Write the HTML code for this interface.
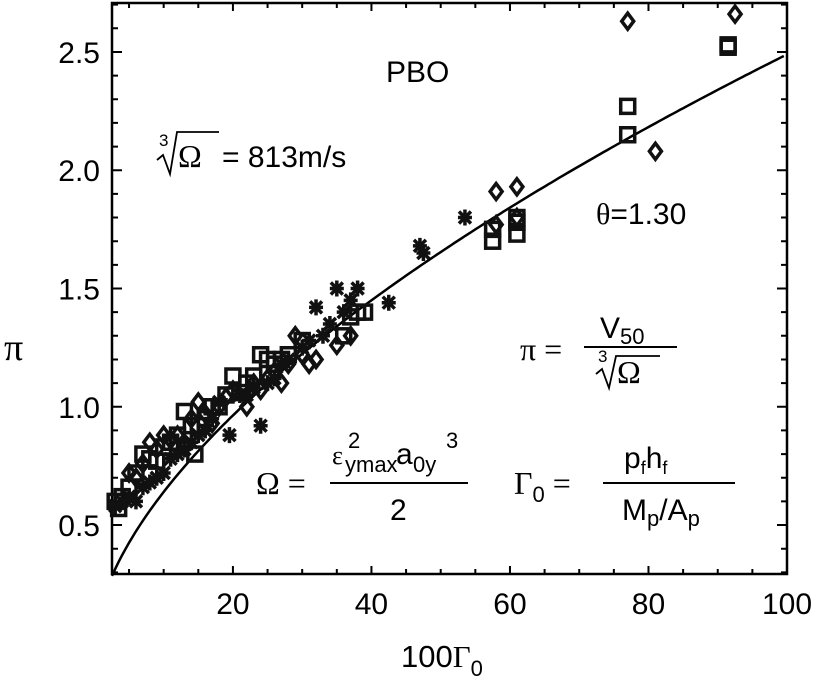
<!DOCTYPE html>
<html><head><meta charset="utf-8"><style>
body{margin:0;background:#fff}
svg{display:block;font-family:"Liberation Sans",sans-serif}
svg text{font-size:30px}
</style></head><body>
<svg id="chart" width="817" height="684" viewBox="0 0 817 684">
<g id="plot"></g>
<text x="4" y="360" style="font-family:'Liberation Serif';font-size:38px">π</text>
<text x="401" y="667" style="font-size:31px">100<tspan style="font-family:'Liberation Serif'">Γ</tspan><tspan style="font-size:22px" dy="9">0</tspan></text>
<text x="386" y="82" style="font-size:30px">PBO</text>
<g>
<text x="159" y="146" style="font-size:17px">3</text>
<path d="M157 160 L163 155 L170 174 L177 132 L219 132" stroke="#000" stroke-width="1.8" fill="none"/>
<text x="178" y="167" style="font-family:'Liberation Serif';font-size:32px">Ω</text>
<text x="222" y="167" style="font-size:30px">= 813m/s</text>
</g>
<text x="596" y="224" style="font-size:30px"><tspan style="font-family:'Liberation Serif'">θ</tspan>=1.30</text>
<g>
<text x="520" y="360" style="font-family:'Liberation Serif';font-size:32px">π =</text>
<text x="600" y="338" style="font-size:30px">V<tspan style="font-size:22px" dy="6">50</tspan></text>
<line x1="584" y1="347" x2="677" y2="347" stroke="#000" stroke-width="2"/>
<text x="598" y="362" style="font-size:17px">3</text>
<path d="M596 374 L602 369 L609 388 L616 356 L660 356" stroke="#000" stroke-width="1.8" fill="none"/>
<text x="617" y="383" style="font-family:'Liberation Serif';font-size:32px">Ω</text>
</g>
<g>
<text x="256" y="494" style="font-family:'Liberation Serif';font-size:32px">Ω =</text>
<text x="332" y="464" style="font-family:'Liberation Serif';font-size:26px">ε</text>
<text x="348" y="448" style="font-size:22px">2</text>
<text x="345" y="472" style="font-size:22px">ymax</text>
<text x="396" y="464" style="font-size:30px">a</text>
<text x="446" y="448" style="font-size:22px">3</text>
<text x="413" y="472" style="font-size:22px">0y</text>
<line x1="330" y1="483" x2="468" y2="483" stroke="#000" stroke-width="2"/>
<text x="390" y="520" style="font-size:30px">2</text>
</g>
<g>
<text x="514" y="494" style="font-family:'Liberation Serif';font-size:32px">Γ<tspan style="font-size:22px;font-family:'Liberation Sans'" dy="8">0</tspan><tspan dy="-8"> =</tspan></text>
<text x="624" y="468" style="font-size:30px">p<tspan style="font-size:18px" dy="6">f</tspan><tspan dy="-6">h</tspan><tspan style="font-size:18px" dy="6">f</tspan></text>
<line x1="603" y1="483" x2="735" y2="483" stroke="#000" stroke-width="2"/>
<text x="622" y="520" style="font-size:30px">M<tspan style="font-size:22px" dy="6">p</tspan><tspan dy="-6">/A</tspan><tspan style="font-size:22px" dy="6">p</tspan></text>
</g>
</svg>
<script>
const xTicks=[20,40,60,80,100];
const yTicks=[0.5,1.0,1.5,2.0,2.5];
const yTickLabels=["0.5","1.0","1.5","2.0","2.5"];
const fitA=0.1645;
const fitB=0.59;
const starX=[3,4,5,6,7,8,9,10,11,12,13,14,15,16,17,18,19.5,21,22,23,24,25,26,27,28,30,31,32,33,34,35,36,37,38,42.5,47,47.5,53.5];
const starY=[0.58,0.6,0.62,0.6,0.66,0.68,0.7,0.72,0.78,0.8,0.82,0.85,0.88,0.9,0.95,1.02,0.88,1.05,1.05,1.08,0.92,1.1,1.12,1.18,1.2,1.25,1.28,1.42,1.3,1.35,1.5,1.4,1.45,1.5,1.44,1.68,1.65,1.8];
const sqX=[3,3.5,4,5,6,7,8,9,10,11,12,13,14,14.5,15,16,17,18,19,20,21,22,23,24,25,26,27,28,30,36,37,38,39,57.5,57.5,61,61,61,77,77,91.5,91.5];
const sqY=[0.6,0.57,0.62,0.66,0.72,0.8,0.78,0.77,0.83,0.85,0.88,0.98,0.92,0.8,0.92,0.95,1.0,1.0,1.05,1.13,1.06,1.1,1.13,1.22,1.2,1.18,1.2,1.22,1.28,1.3,1.38,1.4,1.4,1.75,1.7,1.78,1.73,1.8,2.27,2.15,2.53,2.52];
const diX=[5,6,7,8,9,10,11,12,13,14,15,16,17,18,19,20,22,23,24,25,26,27,28,29,30,31,32,35,37,58,58,61,61,77,81,92.5];
const diY=[0.72,0.7,0.76,0.85,0.82,0.88,0.86,0.88,0.83,0.95,1.02,0.97,0.93,1.0,1.04,1.07,1.0,1.1,1.07,1.12,1.15,1.1,1.18,1.3,1.22,1.18,1.2,1.26,1.3,1.91,1.77,1.93,1.8,2.63,2.08,2.66];
const NS='http://www.w3.org/2000/svg';
const L=112,R=787,T=3,B=574,xmin=2.54,xmax=100,ymin=0.293,ymax=2.707;
const sx=v=>L+(v-xmin)/(xmax-xmin)*(R-L);
const sy=v=>B-(v-ymin)/(ymax-ymin)*(B-T);
const g=document.getElementById('plot');
function mk(tag,at){const e=document.createElementNS(NS,tag);for(const k in at)e.setAttribute(k,at[k]);g.appendChild(e);return e;}
let frame=mk('rect',{x:L,y:T,width:R-L,height:B-T,fill:'none',stroke:'#000','stroke-width':2.5});


for(let v=5;v<=100;v+=5){const x=sx(v);const len=v%20===0?8:5;
let t=mk('path',{d:`M${x} ${B}v${-len}M${x} ${T}v${len}`,stroke:'#000','stroke-width':2});

}
for(let i=3;i<=27;i++){const v=i/10,y=sy(v);const len=i%5===0?10:6;
let t=mk('path',{d:`M${L} ${y}h${len}M${R} ${y}h${-len}`,stroke:'#000','stroke-width':2});

}
xTicks.forEach(v=>{let t=mk('text',{x:sx(v),y:614,'text-anchor':'middle'});t.textContent=String(v);

});
yTicks.forEach((v,i)=>{let t=mk('text',{x:100,y:sy(v)+11,'text-anchor':'end'});t.textContent=yTickLabels[i];

});
let d='';for(let x=xmin;x<=100;x+=0.5){d+=(d?'L':'M')+sx(x).toFixed(1)+' '+sy(fitA*Math.pow(x,fitB)).toFixed(1);}
let fl=mk('path',{d:d,fill:'none',stroke:'#000','stroke-width':2.5});


sqX.forEach((v,i)=>{const x=sx(v),y=sy(sqY[i]);let m=mk('rect',{x:x-7,y:y-7,width:14,height:14,fill:'none',stroke:'#111','stroke-width':3.5});

});
diX.forEach((v,i)=>{const x=sx(v),y=sy(diY[i]);let m=mk('path',{d:`M${x} ${y-8}L${x+6} ${y}L${x} ${y+8}L${x-6} ${y}Z`,fill:'none',stroke:'#111','stroke-width':3.5});

});
starX.forEach((v,i)=>{const x=sx(v),y=sy(starY[i]);let m=mk('path',{d:`M${x-6} ${y-6}L${x+6} ${y+6}M${x+6} ${y-6}L${x-6} ${y+6}M${x} ${y-8}V${y+8}M${x-7} ${y}H${x+7}`,stroke:'#111','stroke-width':3.5});

});
</script>
</body></html>
